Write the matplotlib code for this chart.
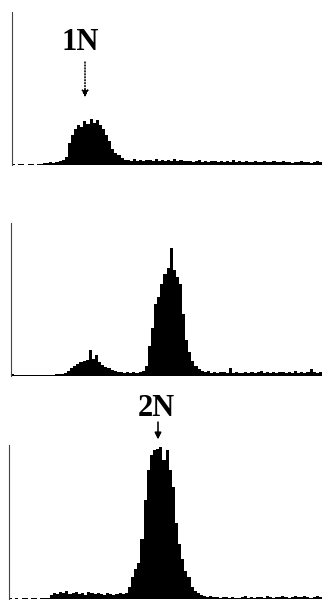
import numpy as np
import matplotlib.pyplot as plt

# 直方圖數值（每個通道的計數，單位約為圖上像素高度）
counts_1n = [1, 0, 1, 1, 0, 1, 1, 0, 1, 1,
             2, 2, 3, 2, 3, 4, 5, 8, 22, 30,
             36, 40, 38, 44, 41, 46, 42, 45, 40, 36,
             30, 24, 16, 12, 10, 7, 5, 5, 4, 6,
             4, 5, 4, 5, 5, 4, 6, 4, 5, 4,
             5, 4, 6, 4, 5, 4, 4, 4, 3, 4,
             5, 3, 4, 3, 4, 4, 3, 4, 3, 4,
             3, 5, 3, 4, 3, 4, 3, 3, 4, 3,
             3, 4, 3, 3, 4, 3, 3, 4, 3, 3,
             2, 3, 3, 4, 3, 3, 2, 3, 4, 3]

counts_mix = [2, 1, 1, 1, 1, 1, 1, 1, 1, 1,
              1, 1, 1, 1, 2, 2, 2, 3, 5, 8,
              10, 12, 14, 15, 16, 26, 17, 21, 14, 11,
              9, 8, 6, 5, 4, 4, 3, 4, 3, 4,
              3, 4, 5, 10, 30, 48, 72, 79, 92, 102,
              108, 128, 106, 99, 92, 62, 36, 24, 15, 10,
              7, 5, 4, 5, 3, 4, 3, 4, 4, 3,
              8, 3, 4, 3, 3, 4, 3, 4, 3, 4,
              5, 3, 4, 3, 4, 3, 4, 4, 3, 4,
              3, 5, 3, 4, 3, 4, 7, 4, 3, 4]

counts_2n = [1, 0, 1, 0, 1, 1, 0, 1, 1, 0,
             1, 1, 1, 4, 6, 5, 7, 6, 8, 5,
             6, 7, 5, 6, 4, 7, 6, 5, 6, 5,
             4, 6, 5, 4, 5, 6, 5, 6, 12, 22,
             30, 36, 60, 99, 129, 144, 149, 150, 152, 139,
             149, 129, 112, 76, 55, 40, 28, 22, 12, 8,
             6, 4, 3, 2, 3, 2, 2, 1, 2, 2,
             1, 2, 1, 1, 2, 3, 1, 2, 1, 2,
             2, 1, 3, 2, 1, 2, 2, 3, 2, 1,
             2, 3, 2, 2, 3, 2, 1, 2, 3, 2]

plt.rcParams['font.family'] = 'Liberation Serif'

W, H = 322, 600
fig = plt.figure(figsize=(W / 100, H / 100), dpi=100)

# (左, 上, 下) 像素位置
panels = [(counts_1n, 12, 12, 165),
          (counts_mix, 11, 223, 376),
          (counts_2n, 9, 445, 599)]

for vals, left, top, bottom in panels:
    ax = fig.add_axes([left / W, 1 - bottom / H, (W - left) / W, (bottom - top) / H])
    edges = np.arange(len(vals) + 1)
    ax.stairs(vals, edges, fill=True, color='black', linewidth=0)
    ax.set_xlim(0, 100)
    ax.set_ylim(0, bottom - top)
    for s in ['top', 'right', 'bottom']:
        ax.spines[s].set_visible(False)
    ax.spines['left'].set_color('#444444')
    ax.spines['left'].set_linewidth(0.8)
    ax.set_xticks([])
    ax.set_yticks([])
    ax.patch.set_alpha(0)

# 標記
fig.text(80 / W, 1 - 43 / H, '1N', ha='center', va='center',
         fontsize=22, fontweight='bold')
fig.text(156 / W, 1 - 408 / H, '2N', ha='center', va='center',
         fontsize=22, fontweight='bold')

arrow = dict(arrowstyle='-|>', color='black', lw=0.8, mutation_scale=10,
             shrinkA=0, shrinkB=0)
fig.add_artist(plt.annotate('', xy=(85 / W, 1 - 97 / H), xytext=(85 / W, 1 - 62 / H),
                            xycoords='figure fraction', arrowprops=dict(arrow, linestyle=':')))
fig.add_artist(plt.annotate('', xy=(158 / W, 1 - 439 / H), xytext=(158 / W, 1 - 422 / H),
                            xycoords='figure fraction', arrowprops=arrow))

fig.savefig('out.png', dpi=100)
